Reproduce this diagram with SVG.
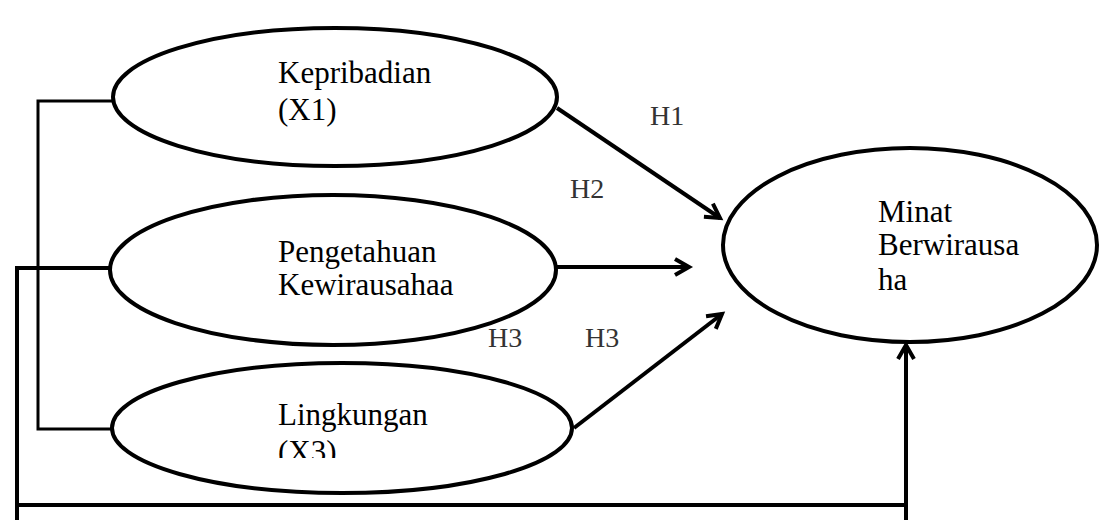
<svg xmlns="http://www.w3.org/2000/svg" width="1101" height="520" viewBox="0 0 1101 520">
<style>
.node{fill:#fff;stroke:#000;stroke-width:4}
.lbl{font-family:'Liberation Serif',serif;font-size:31px;fill:#000}
.h{font-family:'Liberation Serif',serif;font-size:28px;fill:#333}
.conn{fill:none;stroke:#000;stroke-width:4}
.thin{fill:none;stroke:#000;stroke-width:3}
</style>
<defs>
<marker id="arr" markerUnits="userSpaceOnUse" markerWidth="30" markerHeight="30" viewBox="-20 -15 30 30" refX="0" refY="0" orient="auto">
<path d="M-14,-8 L0,0 L-14,8" fill="none" stroke="#000" stroke-width="4" stroke-linejoin="miter"/>
</marker>
<clipPath id="clipX3"><rect x="260" y="380" width="250" height="78"/></clipPath>
</defs>
<rect width="1101" height="520" fill="#fff"/>
<g id="connectors">
<polyline class="thin" points="113,101 38,101 38,429 113,429"/>
<polyline class="conn" points="110,268 17,268 17,520"/>
<line class="conn" x1="17" y1="505" x2="906" y2="505"/>
<line class="conn" x1="906" y1="520" x2="906" y2="345" marker-end="url(#arr)"/>
<line class="conn" x1="557" y1="108" x2="720" y2="218" marker-end="url(#arr)"/>
<line class="conn" x1="557" y1="267" x2="689" y2="267" marker-end="url(#arr)"/>
<line class="conn" x1="574" y1="428" x2="722" y2="314" marker-end="url(#arr)"/>
</g>
<g id="x1">
<ellipse class="node" cx="335" cy="97" rx="222" ry="69"/>
<text class="lbl" x="278" y="83">Kepribadian</text>
<text class="lbl" x="278" y="120">(X1)</text>
</g>
<g id="x2">
<ellipse class="node" cx="333" cy="270" rx="223" ry="75"/>
<text class="lbl" x="278" y="262">Pengetahuan</text>
<text class="lbl" x="278" y="295">Kewirausahaa</text>
</g>
<g id="x3">
<ellipse class="node" cx="342" cy="428" rx="230" ry="65"/>
<text class="lbl" x="278" y="425">Lingkungan</text>
<text class="lbl" x="278" y="462" clip-path="url(#clipX3)">(X3)</text>
</g>
<g id="y">
<ellipse class="node" cx="910" cy="245" rx="187" ry="97"/>
<text class="lbl" x="878" y="222">Minat</text>
<text class="lbl" x="878" y="255">Berwirausa</text>
<text class="lbl" x="878" y="290">ha</text>
</g>
<g id="labels">
<text class="h" x="650" y="125">H1</text>
<text class="h" x="570" y="198">H2</text>
<text class="h" x="488" y="347">H3</text>
<text class="h" x="585" y="347">H3</text>
</g>
</svg>
